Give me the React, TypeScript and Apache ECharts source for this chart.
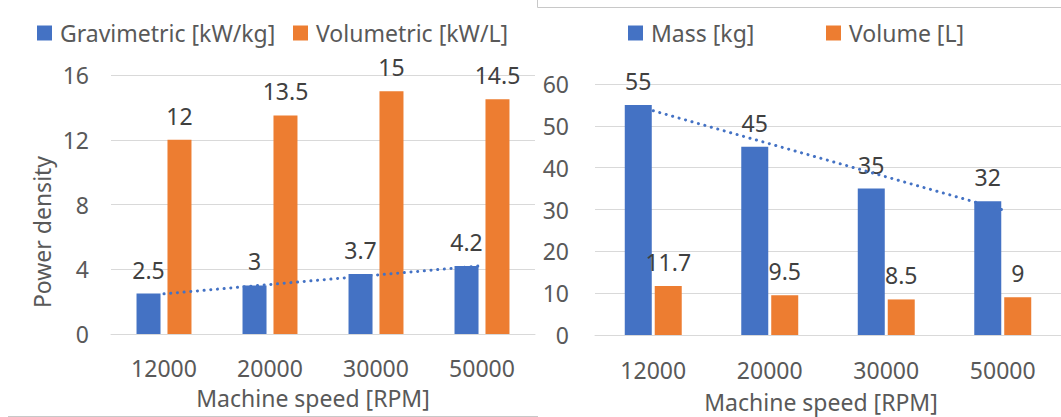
import { useEffect, useRef } from "react";
import * as echarts from "echarts";

// Machine speed categories shared by both panels
const speeds = ["12000", "20000", "30000", "50000"];

// Left panel: power density
const gravimetric = [2.5, 3, 3.7, 4.2];
const volumetric = [12, 13.5, 15, 14.5];
const powerAxis = { min: 0, max: 16, interval: 4 };

// Right panel: machine mass and volume
const mass = [55, 45, 35, 32];
const volume = [11.7, 9.5, 8.5, 9];
const massAxis = { min: 0, max: 60, interval: 10 };

const names = {
  gravimetric: "Gravimetric [kW/kg]",
  volumetric: "Volumetric [kW/L]",
  mass: "Mass [kg]",
  volume: "Volume [L]",
  xTitle: "Machine speed [RPM]",
  yTitle: "Power density",
};

const BLUE = "#4472C4";
const ORANGE = "#ED7D31";
const GRID = "#D9D9D9";
const AXIS_TEXT = "#595959";
const LABEL_TEXT = "#404040";
const FONT = "'Noto Sans', sans-serif";
const FS = 23;

// Least-squares linear trend evaluated at each category position (1..n)
function linearTrend(values: number[]): number[] {
  const n = values.length;
  const xs = values.map((_, i) => i + 1);
  const mx = xs.reduce((a, b) => a + b, 0) / n;
  const my = values.reduce((a, b) => a + b, 0) / n;
  let num = 0;
  let den = 0;
  xs.forEach((x, i) => {
    num += (x - mx) * (values[i] - my);
    den += (x - mx) * (x - mx);
  });
  const slope = num / den;
  const icpt = my - slope * mx;
  return xs.map((x) => +(icpt + slope * x).toFixed(4));
}

const barLabel = {
  show: true,
  position: "top" as const,
  distance: 12,
  color: LABEL_TEXT,
  fontSize: FS,
  lineHeight: 24,
  fontFamily: FONT,
};

function legendItem(name: string, left: number) {
  return {
    data: [name],
    left,
    top: 21,
    padding: 0,
    icon: "rect",
    itemWidth: 15,
    itemHeight: 15,
    selectedMode: false,
    textStyle: {
      color: AXIS_TEXT,
      fontSize: FS,
      lineHeight: 24,
      fontFamily: FONT,
      padding: [0, 0, 0, 3],
    },
  };
}

function categoryAxis(gridIndex: number, margin: number) {
  return {
    type: "category" as const,
    gridIndex,
    data: speeds,
    axisTick: { show: false },
    axisLine: { show: true, lineStyle: { color: GRID, width: 1 } },
    axisLabel: {
      color: AXIS_TEXT,
      fontSize: FS,
      lineHeight: 24,
      fontFamily: FONT,
      margin,
    },
  };
}

function valueAxis(
  gridIndex: number,
  range: { min: number; max: number; interval: number },
  margin: number
) {
  return {
    type: "value" as const,
    gridIndex,
    ...range,
    axisLine: { show: false },
    axisTick: { show: false },
    splitLine: { show: true, lineStyle: { color: GRID, width: 1 } },
    axisLabel: {
      color: AXIS_TEXT,
      fontSize: FS,
      fontFamily: FONT,
      margin,
    },
  };
}

const trendLine = {
  color: BLUE,
  width: 3,
  type: [0.1, 6.6],
  cap: "round" as const,
};

export default function App() {
  const ref = useRef<HTMLDivElement>(null);

  useEffect(() => {
    if (!ref.current) return;
    const chart = echarts.init(ref.current, null, { renderer: "svg" });

    chart.setOption({
      animation: false,
      textStyle: { fontFamily: FONT },
      legend: [
        legendItem(names.gravimetric, 37),
        legendItem(names.volumetric, 293),
        legendItem(names.mass, 628),
        legendItem(names.volume, 826),
      ],
      grid: [
        { left: 111, top: 75, width: 424, height: 259 },
        { left: 595, top: 84, width: 472, height: 251 },
      ],
      xAxis: [categoryAxis(0, 22), categoryAxis(1, 23)],
      yAxis: [valueAxis(0, powerAxis, 22), valueAxis(1, massAxis, 26)],
      series: [
        {
          name: names.gravimetric,
          type: "bar",
          xAxisIndex: 0,
          yAxisIndex: 0,
          data: gravimetric,
          barWidth: 24,
          barGap: "29%",
          itemStyle: { color: BLUE },
          label: barLabel,
        },
        {
          name: names.volumetric,
          type: "bar",
          xAxisIndex: 0,
          yAxisIndex: 0,
          data: volumetric,
          barWidth: 24,
          barGap: "29%",
          itemStyle: { color: ORANGE },
          label: barLabel,
        },
        {
          name: "Linear (Gravimetric)",
          type: "line",
          xAxisIndex: 0,
          yAxisIndex: 0,
          data: linearTrend(gravimetric),
          symbol: "none",
          z: 5,
          lineStyle: trendLine,
        },
        {
          name: names.mass,
          type: "bar",
          xAxisIndex: 1,
          yAxisIndex: 1,
          data: mass,
          barWidth: 27,
          barGap: "11%",
          itemStyle: { color: BLUE },
          label: barLabel,
        },
        {
          name: names.volume,
          type: "bar",
          xAxisIndex: 1,
          yAxisIndex: 1,
          data: volume,
          barWidth: 27,
          barGap: "11%",
          itemStyle: { color: ORANGE },
          label: barLabel,
        },
        {
          name: "Linear (Mass)",
          type: "line",
          xAxisIndex: 1,
          yAxisIndex: 1,
          data: linearTrend(mass),
          symbol: "none",
          z: 5,
          lineStyle: trendLine,
        },
      ],
      graphic: [
        {
          type: "text",
          x: 42,
          y: 232,
          rotation: Math.PI / 2,
          style: {
            text: names.yTitle,
            fill: AXIS_TEXT,
            fontSize: FS,
            fontFamily: FONT,
            align: "center",
            verticalAlign: "middle",
          },
        },
        {
          type: "text",
          x: 313,
          y: 398,
          style: {
            text: names.xTitle,
            fill: AXIS_TEXT,
            fontSize: FS,
            fontFamily: FONT,
            align: "center",
            verticalAlign: "middle",
          },
        },
        {
          type: "text",
          x: 821,
          y: 402,
          style: {
            text: names.xTitle,
            fill: AXIS_TEXT,
            fontSize: FS,
            fontFamily: FONT,
            align: "center",
            verticalAlign: "middle",
          },
        },
        // chart-area borders
        {
          type: "line",
          shape: { x1: 8, y1: 416.5, x2: 538, y2: 416.5 },
          style: { stroke: "#C8C8C8", lineWidth: 1 },
        },
        {
          type: "polyline",
          shape: {
            points: [
              [537.5, 0],
              [537.5, 7.5],
              [1061, 7.5],
            ],
          },
          style: { stroke: "#C8C8C8", lineWidth: 1, fill: "none" },
        },
      ],
    });

    return () => chart.dispose();
  }, []);

  return (
    <div
      ref={ref}
      style={{ position: "fixed", left: 0, top: 0, width: 1061, height: 417, background: "#fff" }}
    />
  );
}
